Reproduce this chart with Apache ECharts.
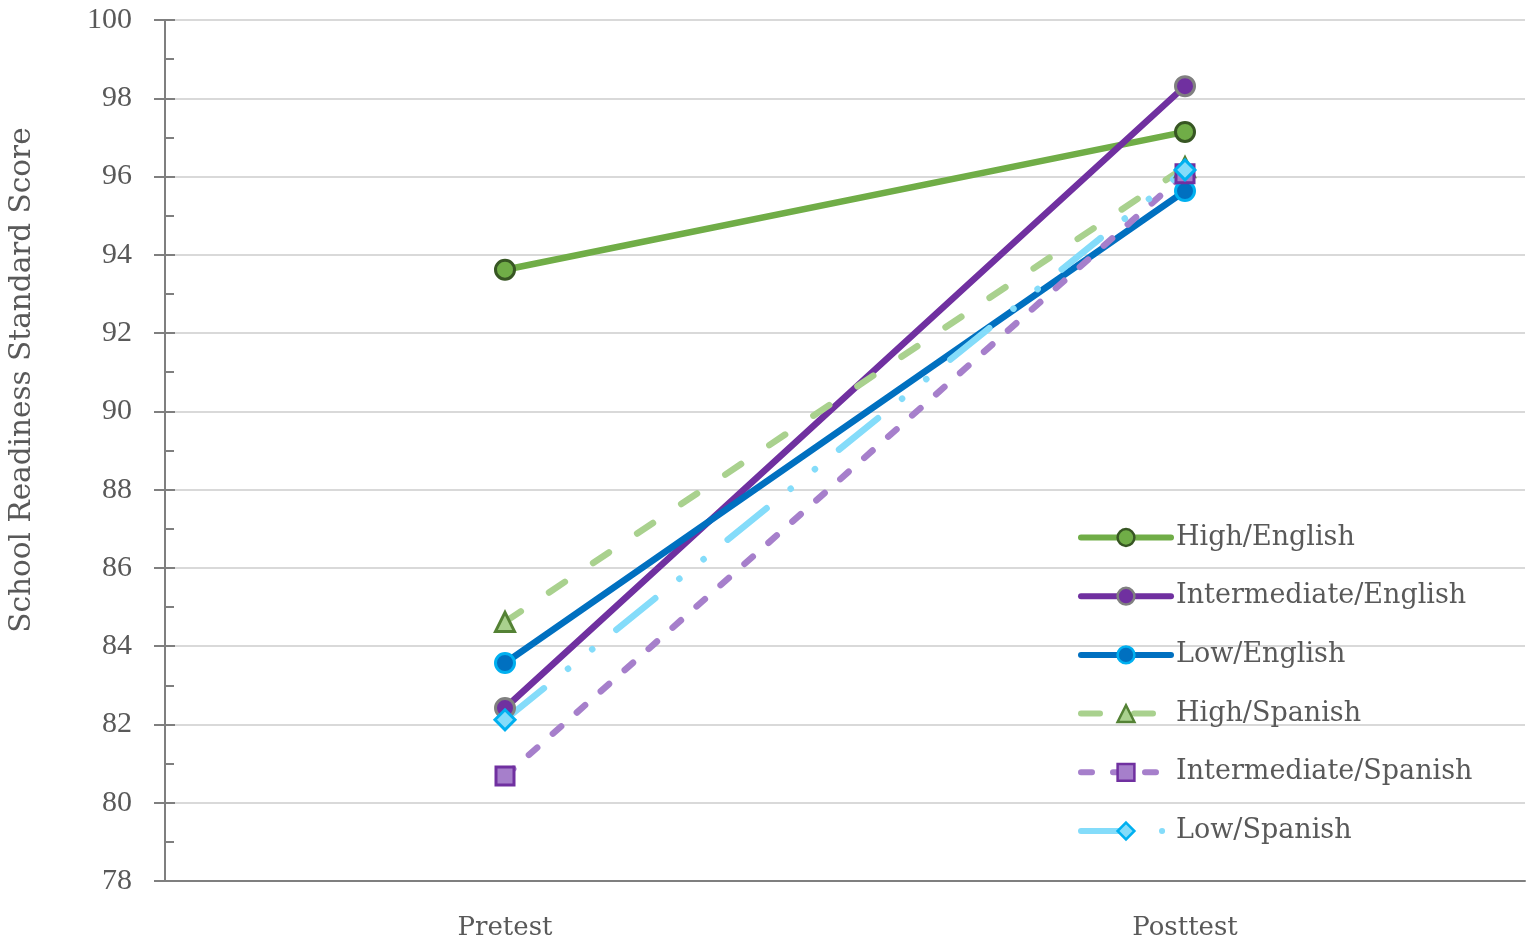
<!DOCTYPE html>
<html>
<head>
<meta charset="utf-8">
<script src="https://cdn.jsdelivr.net/npm/echarts@6/dist/echarts.min.js"></script>
<style>
    html, body { margin: 0; padding: 0; background: #fff; }
    #chart { width: 1535px; height: 945px; }
</style>
</head>
<body>
<div id="chart"></div>
<script>
// 数据
const categories = ['Pretest', 'Posttest'];
const highEnglish = [93.62, 97.14];
const intermediateEnglish = [82.42, 98.31];
const lowEnglish = [83.57, 95.63];
const highSpanish = [84.62, 96.24];
const intermediateSpanish = [80.68, 96.07];
const lowSpanish = [82.12, 96.17];
const yMin = 78;
const yMax = 100;
const yStep = 2;

const FONT = '"DejaVu Serif", serif';
const NUM_FONT = '"Liberation Serif", serif';
const TEXT = '#595959';

document.addEventListener('DOMContentLoaded', () => {
    const chart = echarts.init(document.getElementById('chart'));

    function makeSeries(name, data, color, dash, symbol, fill, border, size) {
        return {
            name: name,
            type: 'line',
            data: data,
            symbol: symbol,
            symbolSize: size,
            lineStyle: {
                color: color,
                width: 6.5,
                type: dash,
                cap: 'round'
            },
            itemStyle: {
                color: fill,
                borderColor: border,
                borderWidth: 3
            },
            emphasis: { disabled: true },
            z: 3
        };
    }

    chart.setOption({
        animation: false,
        grid: {
            left: 165,
            right: 10,
            top: 20,
            bottom: 64
        },
        graphic: [{
            type: 'text',
            x: 22,
            y: 380,
            rotation: Math.PI / 2,
            style: {
                text: 'School Readiness Standard Score',
                fill: TEXT,
                font: '29.5px ' + FONT,
                textAlign: 'center',
                textVerticalAlign: 'middle'
            }
        }],
        legend: {
            orient: 'vertical',
            left: 1078,
            top: 524,
            padding: 0,
            itemWidth: 90,
            itemHeight: 21,
            itemGap: 31.7,
            textStyle: {
                color: TEXT,
                fontFamily: FONT,
                fontSize: 27
            },
            lineStyle: { width: 6 },
            itemStyle: { borderWidth: 2.5 }
        },
        xAxis: {
            type: 'category',
            data: categories,
            boundaryGap: true,
            axisLine: { lineStyle: { color: '#7f7f7f', width: 2 } },
            axisTick: { show: false },
            axisLabel: {
                color: TEXT,
                fontFamily: FONT,
                fontSize: 26,
                margin: 34
            }
        },
        yAxis: [{
            type: 'value',
            min: yMin,
            max: yMax,
            interval: yStep,
            axisLine: { show: true, lineStyle: { color: '#7f7f7f', width: 2 } },
            axisTick: { show: true, length: 11, lineStyle: { color: '#7f7f7f', width: 2 } },
            splitLine: { lineStyle: { color: '#d9d9d9', width: 2 } },
            axisLabel: {
                color: TEXT,
                fontFamily: NUM_FONT,
                fontSize: 30,
                margin: 33
            }
        }, {
            type: 'value',
            position: 'left',
            offset: 0,
            min: yMin,
            max: yMax,
            interval: yStep,
            axisLine: { show: false },
            axisTick: { show: true, inside: true, length: 10, lineStyle: { color: '#7f7f7f', width: 2 } },
            minorTick: { show: true, splitNumber: 2, length: 9, lineStyle: { color: '#7f7f7f', width: 2 } },
            splitLine: { show: false },
            axisLabel: { show: false }
        }],
        series: [
            makeSeries('High/English', highEnglish, '#70ad47', 'solid', 'circle', '#70ad47', '#375623', 19),
            makeSeries('Intermediate/English', intermediateEnglish, '#7030a0', 'solid', 'circle', '#7030a0', '#808080', 19),
            makeSeries('Low/English', lowEnglish, '#0070c0', 'solid', 'circle', '#0070c0', '#00b0f0', 19),
            makeSeries('High/Spanish', highSpanish, '#a9d18e', [19, 34], 'triangle', '#a9d18e', '#548235', 19),
            makeSeries('Intermediate/Spanish', intermediateSpanish, '#a67fcb', [11, 21], 'rect', '#a67fcb', '#7030a0', 18),
            makeSeries('Low/Spanish', lowSpanish, '#84dcfa', [50, 31, 0.1, 31, 0.1, 31], 'diamond', '#84dcfa', '#00b0f0', 20)
        ]
    });
});
</script>
</body>
</html>
